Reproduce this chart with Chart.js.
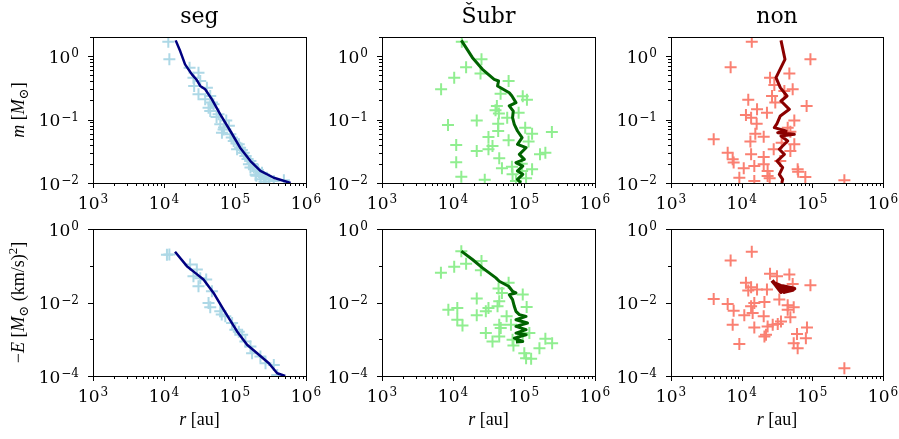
<!DOCTYPE html>
<html><head><meta charset="utf-8">
<script src="https://cdn.jsdelivr.net/npm/chart.js@4.4.1/dist/chart.umd.min.js"></script>
<style>
html,body{margin:0;padding:0;background:#fff;width:899px;height:439px;overflow:hidden;position:relative}
canvas{position:absolute;display:block}
</style></head><body>
<canvas id="c00"></canvas><canvas id="c01"></canvas><canvas id="c02"></canvas>
<canvas id="c10"></canvas><canvas id="c11"></canvas><canvas id="c12"></canvas>
<script>
// ---------- data ----------
const panelTitles = ['seg', 'Šubr', 'non'];
const xTickRange = [1e3, 1e6];
const massRange = [0.01, 2];
const energyRange = [1e-4, 1];

// seg: mass vs r
const segMassR = [1.15e4,1.19e4,2.29e4,3.06e4,2.6e4,3.24e4,2.66e4,4.02e4,3.06e4,4.48e4,3.8e4,4.73e4,4.24e4,4.48e4,5.87e4,7.53e4,6.2e4,6.9e4,6.55e4,8.6e4,9.6e4,1.13e5,1.07e5,1.33e5,1.4e5,1.65e5,1.57e5,1.84e5,2.05e5,2.28e5,2.55e5,3.0e5,3.52e5,4.88e5,1.65e5,4.98e4,8.2e4,1.18e5,5.5e4,7.0e4,9.0e4,1.05e5,1.25e5,1.5e5,1.75e5,2.1e5,2.4e5,2.7e5,1.95e5,2.3e5,2.0e5,2.6e5];
const segMassM = [1.69,0.89,0.658,0.548,0.457,0.405,0.338,0.318,0.25,0.235,0.208,0.185,0.154,0.136,0.121,0.097,0.084,0.070,0.0622,0.0585,0.0459,0.0407,0.034,0.0301,0.0267,0.0222,0.0197,0.0175,0.0155,0.0137,0.0124,0.0114,0.0108,0.011,0.0175,0.175,0.08,0.036,0.11,0.075,0.052,0.042,0.033,0.024,0.02,0.016,0.0145,0.012,0.0135,0.0115,0.013,0.0105];
const segMassLineR = [1.46e4,1.69e4,1.98e4,2.47e4,2.9e4,3.24e4,3.8e4,4.73e4,6.2e4,8.6e4,1.18e5,1.65e5,2.28e5,3.52e5,6.07e5];
const segMassLineM = [1.77,1.2,0.74,0.516,0.42,0.338,0.30,0.208,0.121,0.066,0.036,0.0222,0.0155,0.0121,0.01];

// seg: energy vs r
const segEnergyR = [1.19e4,1.1e4,2.33e4,2.9e4,2.6e4,3.93e4,3.06e4,4.73e4,4.24e4,4.48e4,6.2e4,7.3e4,9.1e4,1.01e5,1.26e5,1.4e5,1.65e5,1.74e5,2.28e5,2.69e5,3.52e5,3.93e5,3.24e4,6.5e4,1.13e5];
const segEnergyE = [0.203,0.2,0.108,0.079,0.052,0.0422,0.0277,0.0202,0.0097,0.0074,0.00575,0.0042,0.00276,0.00182,0.00132,8.7e-4,6.35e-4,4.18e-4,3.39e-4,2.23e-4,2.0e-4,1.07e-4,0.046,0.0047,0.0016];
const segEnergyLineR = [1.43e4,2.1e4,2.75e4,3.6e4,4.99e4,6.9e4,1.07e5,1.48e5,2.05e5,3.0e5,3.93e5,5.1e5];
const segEnergyLineE = [0.24,0.0975,0.064,0.0422,0.0182,0.00638,0.00163,7.06e-4,4.18e-4,2.23e-4,1.19e-4,1.0e-4];

// Subr: mass vs r
const subrMassR = [1.33e4,2.52e4,1.53e4,2.44e4,1.04e4,6.8e3,6.07e4,4.68e4,9.6e4,1.1e5,4.15e4,3.97e4,4.43e4,5.8e4,8.4e4,8.5e3,2.16e4,4.33e4,1.04e5,4.33e4,1.3e5,2.47e5,3.16e4,6.07e4,1.16e5,1.11e4,2.16e4,3.16e4,3.6e4,4.48e4,2.0e5,1.68e5,1.11e4,4.89e4,6.76e4,1.3e5,9.3e4,1.31e4,2.8e4,6.9e4,1.07e5,9.4e4,7.7e4];
const subrMassM = [1.69,0.89,0.67,0.53,0.457,0.30,0.405,0.256,0.232,0.206,0.164,0.14,0.124,0.107,0.128,0.082,0.097,0.086,0.0745,0.066,0.06,0.0637,0.053,0.047,0.0449,0.0397,0.032,0.034,0.0384,0.0245,0.0301,0.0283,0.0212,0.0171,0.0181,0.0164,0.0202,0.0125,0.0113,0.0137,0.0119,0.0155,0.0108];
const subrMassLineR = [1.31e4,1.88e4,2.6e4,3.8e4,4.38e4,4.24e4,6.2e4,6.76e4,7.7e4,6.2e4,7.06e4,6.9e4,7.3e4,8.1e4,9.4e4,8.1e4,1.07e5,8.6e4,1.01e5,7.7e4,9.6e4,8.1e4,9.6e4,8.1e4,9.05e4];
const subrMassLineM = [1.77,0.945,0.62,0.43,0.405,0.338,0.265,0.235,0.185,0.164,0.136,0.107,0.084,0.066,0.0519,0.0407,0.036,0.0283,0.0236,0.021,0.0185,0.0155,0.0137,0.0114,0.01];

// Subr: energy vs r
const subrEnergyR = [1.31e4,2.52e4,1.53e4,1.04e4,2.47e4,6.76e3,6.07e4,4.38e4,4.89e4,9.6e4,2.16e4,4.48e4,4.24e4,1.09e5,8.6e3,1.15e4,3.16e4,2.9e4,2.16e4,5.69e4,1.15e4,1.36e4,4.48e4,6.55e4,4.7e4,2.9e4,1.19e5,4.48e4,3.6e4,6.9e4,2.0e5,2.49e5,7.1e4,1.65e5,1.01e5,1.07e5,1.26e5,9.6e4];
const subrEnergyE = [0.25,0.134,0.113,0.0935,0.0759,0.064,0.0342,0.0239,0.0182,0.0164,0.0128,0.0108,0.00787,0.00755,0.00638,0.0071,0.0071,0.00575,0.00447,0.0042,0.0034,0.00238,0.00248,0.00248,0.00201,0.00147,0.00147,0.00119,8.7e-4,9.7e-4,1.03e-3,7.8e-4,6.8e-4,5.7e-4,4.18e-4,3.05e-4,2.93e-4,1.32e-3];
const subrEnergyLineR = [1.31e4,1.88e4,2.6e4,4.02e4,4.48e4,6.07e4,6.9e4,7.7e4,6.2e4,6.9e4,7.3e4,7.7e4,8.6e4,1.07e5,7.7e4,1.12e5,7.7e4,1.07e5,7.7e4,1.07e5,7.3e4,9.6e4,7.7e4];
const subrEnergyLineE = [0.25,0.148,0.0878,0.0468,0.0379,0.0277,0.0202,0.0182,0.0164,0.012,0.00787,0.00575,0.00467,0.0042,0.0034,0.00276,0.00224,0.00182,0.00147,0.00132,0.00107,8.7e-4,8.4e-4];

// non: mass vs r
const nonMassR = [1.39e4,9.4e4,6.98e3,4.73e4,2.52e4,2.9e4,5.27e4,4.02e4,2.69e4,2.99e4,1.24e4,8.3e4,1.65e4,2.28e4,1.15e4,1.36e4,1.63e4,5.56e4,4.48e4,4.89e4,4.02e3,1.56e4,2.05e4,1.33e4,3.68e4,5.56e4,2.84e4,4.89e4,6.34e3,1.36e4,7.46e3,2.05e4,3.52e4,7.7e3,2.05e4,1.51e4,1.07e4,2.33e4,6.2e4,6.3e4,2.33e4,7.96e4,9.27e3,1.51e4,2.49e4,2.84e5];
const nonMassM = [1.69,0.89,0.67,0.53,0.457,0.351,0.30,0.282,0.235,0.185,0.206,0.164,0.145,0.128,0.118,0.107,0.086,0.097,0.0745,0.0644,0.0489,0.06,0.0538,0.0449,0.0432,0.0407,0.034,0.032,0.0301,0.0283,0.0236,0.0257,0.0222,0.021,0.0197,0.0185,0.0171,0.0155,0.0164,0.0151,0.0129,0.0124,0.0121,0.0108,0.0119,0.011];
const nonMassLineR = [3.6e4,4.1e4,3.06e4,3.52e4,4.38e4,3.6e4,4.73e4,3.52e4,3.16e4,2.9e4,4.24e4,3.24e4,5.56e4,3.6e4,4.48e4,3.41e4,4.02e4,3.16e4,3.8e4,3.41e4,3.8e4,3.7e4];
const nonMassLineM = [1.77,0.89,0.457,0.318,0.235,0.196,0.145,0.114,0.086,0.0745,0.066,0.0622,0.0585,0.0551,0.0459,0.034,0.0283,0.0222,0.0175,0.0137,0.0114,0.01];

// non: energy vs r
const nonEnergyR = [1.39e4,6.98e3,2.52e4,4.73e4,3.16e4,1.15e4,9.4e4,5.27e4,1.36e4,1.65e4,2.28e4,1.24e4,4.02e3,6.34e3,3.41e4,2.1e4,1.51e4,1.36e4,4.48e4,5.45e4,7.7e3,1.43e4,1.09e4,4.48e4,2.05e4,4.89e4,7.46e3,2.75e4,3.6e4,3.24e4,1.51e4,2.33e4,8.4e4,2.21e4,2.1e4,6.07e4,8.1e4,9.27e3,5.45e4,6.2e4,2.84e5];
const nonEnergyE = [0.24,0.139,0.0602,0.0577,0.052,0.0342,0.0295,0.0321,0.026,0.0225,0.0225,0.0211,0.0125,0.00912,0.012,0.0103,0.0097,0.00787,0.00838,0.0074,0.006,0.00518,0.00447,0.00638,0.0042,0.00394,0.00248,0.00248,0.00306,0.00259,0.0021,0.00224,0.0021,0.00132,0.00119,0.00138,0.00107,7.4e-4,7.8e-4,5.7e-4,1.63e-4];
const nonEnergyLineR = [2.69e4,3.06e4,3.6e4,3.24e4,4.24e4,5.56e4,3.8e4,4.73e4,3.41e4,5.27e4,4.02e4,3.0e4,4.6e4];
const nonEnergyLineE = [0.0396,0.0295,0.0194,0.026,0.0202,0.0239,0.0277,0.0211,0.0239,0.022,0.0194,0.033,0.0225];

// ---------- styling / layout ----------
const COLS = [{L:93,R:306},{L:382,R:595},{L:671,R:883}];
const ROWS = [{T:37,B:183,top:0,xH:30},{T:229,B:376,top:200,xH:56}];
const SERIF = '"DejaVu Serif", serif';
const LABEL_FONT = '"Liberation Serif", "DejaVu Serif", serif';
Chart.defaults.font.family = SERIF;
Chart.defaults.color = '#000';

function drawPow(ctx, e, px, baseY, align){
  const base = '10', ex = (e < 0 ? '\u2212' : '') + Math.abs(e);
  ctx.font = '17px ' + SERIF; const wb = ctx.measureText(base).width;
  ctx.font = '12px ' + SERIF; const we = ctx.measureText(ex).width;
  const tot = wb + 1 + we;
  const x0 = align === 'center' ? px - tot/2 : px - tot;
  ctx.font = '17px ' + SERIF; ctx.fillText(base, x0, baseY);
  ctx.font = '12px ' + SERIF; ctx.fillText(ex, x0 + wb + 1, baseY - 5.5);
}

function drawRich(ctx, segs, cx, cy, rot){
  ctx.save();
  ctx.translate(cx, cy); ctx.rotate(rot);
  ctx.textBaseline = 'alphabetic'; ctx.fillStyle = '#000';
  const fontOf = s => (s.it ? 'italic ' : '') + ((s.sub || s.sup) ? '13px ' : '18px ') + LABEL_FONT;
  let w = 0;
  for (const s of segs){ ctx.font = fontOf(s); w += ctx.measureText(s.t).width; }
  let x = -w/2;
  for (const s of segs){
    ctx.font = fontOf(s);
    const dy = s.sub ? 4 : (s.sup ? -7 : 0);
    ctx.fillText(s.t, x, 5 + dy);
    x += ctx.measureText(s.t).width;
  }
  ctx.restore();
}

const yLabelMass = [{t:'m',it:true},{t:' ['},{t:'M',it:true},{t:'⊙',sub:true},{t:']'}];
const yLabelEnergy = [{t:'−'},{t:'E',it:true},{t:' ['},{t:'M',it:true},{t:'⊙',sub:true},{t:' (km/s)'},{t:'2',sup:true},{t:']'}];
const xLabel = [{t:'r',it:true},{t:' [au]'}];

function decoPlugin(ySegs, xSegs, yEvery){
  return {
    id: 'deco',
    afterDraw(chart){
      const {ctx, chartArea: a, scales} = chart;
      ctx.save();
      ctx.strokeStyle = '#000'; ctx.fillStyle = '#000'; ctx.lineWidth = 1;
      ctx.textBaseline = 'alphabetic';
      const labels = [];
      ctx.beginPath();
      for (const id of ['x','y']){
        const sc = scales[id];
        for (const t of sc.ticks){
          const v = t.value;
          const e = Math.floor(Math.log10(v) + 1e-9);
          const m = v / Math.pow(10, e);
          if (Math.abs(m - Math.round(m)) > 1e-6) continue;
          const isDecade = Math.abs(m - 1) < 1e-6;
          let major = isDecade;
          if (id === 'y' && yEvery === 2){
            if (!isDecade) continue;
            major = (e % 2 === 0);
          }
          const len = major ? 5 : 3;
          const p = Math.round(sc.getPixelForValue(v)) + 0.5;
          if (id === 'x'){ ctx.moveTo(p, a.bottom); ctx.lineTo(p, a.bottom + len); }
          else { ctx.moveTo(a.left, p); ctx.lineTo(a.left - len, p); }
          if (major) labels.push({id, e, p: sc.getPixelForValue(v)});
        }
      }
      ctx.stroke();
      ctx.strokeRect(Math.round(a.left) + 0.5, Math.round(a.top) + 0.5, Math.round(a.right - a.left), Math.round(a.bottom - a.top));
      for (const l of labels){
        if (l.id === 'x') drawPow(ctx, l.e, l.p, a.bottom + 25.5, 'center');
        else drawPow(ctx, l.e, a.left - 14, l.p + 6.5, 'right');
      }
      ctx.restore();
      if (ySegs) drawRich(ctx, ySegs, 19 - chart.canvas.offsetLeft, (a.top + a.bottom)/2, -Math.PI/2);
      if (xSegs) drawRich(ctx, xSegs, (a.left + a.right)/2, 420 - chart.canvas.offsetTop, 0);
    }
  };
}

function makePanel(row, col, sR, sY, lR, lY, ptColor, lineColor, lineW, yRange, title, ySegs, xSegs){
  const c = COLS[col], r = ROWS[row];
  const cl = col === 0 ? 0 : c.L - 80;
  const yW = c.L - cl;
  const cw = c.R + 20 - cl;
  const ch = r.B + r.xH - r.top;
  const cv = document.getElementById('c' + row + col);
  cv.width = cw; cv.height = ch;
  cv.style.left = cl + 'px'; cv.style.top = r.top + 'px';
  cv.style.width = cw + 'px'; cv.style.height = ch + 'px';
  new Chart(cv, {
    type: 'scatter',
    data: {
      datasets: [
        {data: lR.map((x,i) => ({x, y: lY[i]})), showLine: true, pointRadius: 0, borderColor: lineColor,
         borderWidth: lineW, borderJoinStyle: 'round', fill: false, clip: 0, order: 0},
        {data: sR.map((x,i) => ({x, y: sY[i]})), pointStyle: 'cross', pointRadius: 6, borderWidth: 2,
         borderColor: ptColor, backgroundColor: ptColor, showLine: false, clip: 0, order: 1}
      ]
    },
    options: {
      responsive: false, animation: false, events: [],
      layout: {padding: {left: 0, right: 20, top: row === 0 ? 4 : (r.T - r.top), bottom: 0}},
      plugins: {
        legend: {display: false}, tooltip: {enabled: false},
        title: row === 0 ? {display: true, fullSize: false, text: title, color: '#000',
          font: {family: SERIF, size: 22, weight: 'normal'}, padding: {top: 0, bottom: 6.6}} : {display: false}
      },
      scales: {
        x: {type: 'logarithmic', position: 'bottom', min: xTickRange[0], max: xTickRange[1],
            grid: {display: false, drawTicks: false}, border: {display: false},
            ticks: {display: false, autoSkip: false},
            afterFit(s){ s.height = r.xH; }},
        y: {type: 'logarithmic', position: 'left', min: yRange[0], max: yRange[1],
            grid: {display: false, drawTicks: false}, border: {display: false},
            ticks: {display: false, autoSkip: false},
            afterFit(s){ s.width = yW; }}
      }
    },
    plugins: [decoPlugin(ySegs, xSegs, row === 0 ? 1 : 2)]
  });
}

const BLUE = '#add8e6', NAVY = '#000080', LGREEN = '#90ee90', DGREEN = '#006400', SALMON = '#fa8072', DRED = '#8b0000';
makePanel(0,0, segMassR, segMassM, segMassLineR, segMassLineM, BLUE, NAVY, 2.5, massRange, panelTitles[0], yLabelMass, null);
makePanel(0,1, subrMassR, subrMassM, subrMassLineR, subrMassLineM, LGREEN, DGREEN, 3, massRange, panelTitles[1], null, null);
makePanel(0,2, nonMassR, nonMassM, nonMassLineR, nonMassLineM, SALMON, DRED, 3, massRange, panelTitles[2], null, null);
makePanel(1,0, segEnergyR, segEnergyE, segEnergyLineR, segEnergyLineE, BLUE, NAVY, 2.5, energyRange, '', yLabelEnergy, xLabel);
makePanel(1,1, subrEnergyR, subrEnergyE, subrEnergyLineR, subrEnergyLineE, LGREEN, DGREEN, 3, energyRange, '', null, xLabel);
makePanel(1,2, nonEnergyR, nonEnergyE, nonEnergyLineR, nonEnergyLineE, SALMON, DRED, 4, energyRange, '', null, xLabel);
</script>
</body></html>
